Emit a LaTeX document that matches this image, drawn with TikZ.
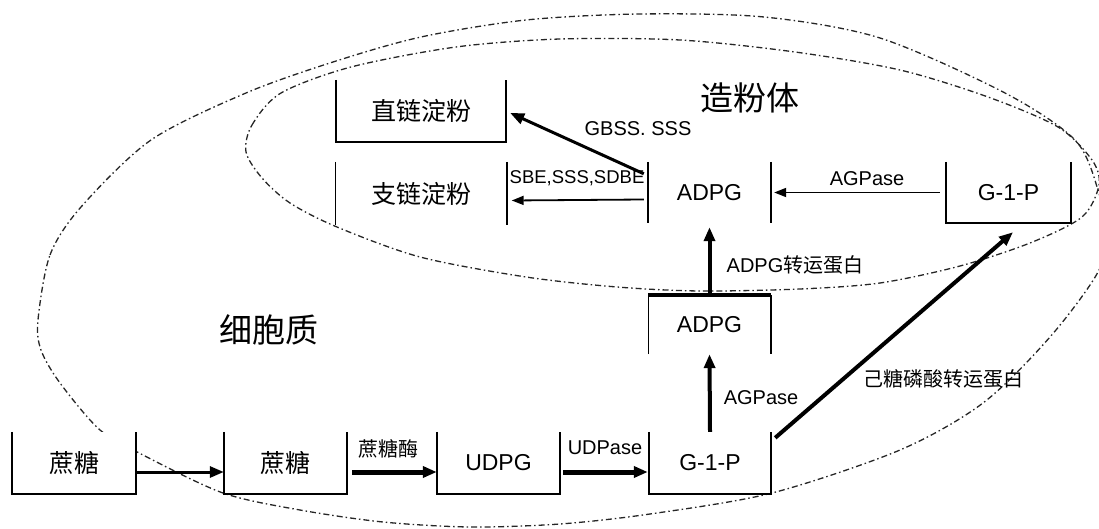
\documentclass[tikz,border=0pt]{standalone}
\usepackage{fontspec}
\setmainfont{Liberation Sans}
\newfontfamily\cjk{Noto Sans CJK SC}
\usetikzlibrary{arrows.meta,calc}
\begin{document}
\begin{tikzpicture}[x=1pt,y=-1pt,
  every node/.style={inner sep=0pt},
  ell/.style={line width=1.3pt, black!85, dash pattern=on 6pt off 3pt on 1.5pt off 3pt},
  box/.style={fill=white, minimum height=62pt, font=\fontsize{23}{26}\selectfont},
  cbox/.style={box, font=\cjk\fontsize{25}{28}\selectfont},
  side/.style={line width=1.6pt},
  lab/.style={font=\fontsize{20}{24}\selectfont},
  clab/.style={font=\cjk\fontsize{20}{24}\selectfont},
  big/.style={font=\cjk\fontsize{33}{38}\selectfont},
  arr/.style={line width=#1, -{Triangle[length=14pt,width=11pt]}},
  tarr/.style={line width=1.8pt, -{Triangle[length=12pt,width=9pt]}}
]
\useasboundingbox (0,0) rectangle (1099,529);
\clip (0,0) rectangle (1099,529);

% cytoplasm (outer) and amyloplast (inner) outlines
\draw[ell] plot[smooth cycle] coordinates {(38,320) (50,255) (81,207) (151,140) (246,93) (333,62) (421,37) (526,20) (640,14) (764,17) (880,38) (1005,93) (1075,140) (1098,190) (1105,232) (1098,272) (1050,337) (983,403) (900,450) (772,493) (650,514) (560,524) (470,527) (383,522) (300,510) (223,493) (143,455) (100,430) (60,383) (41,350)};
\draw[ell] plot[smooth cycle] coordinates {(246,152) (252,125) (281,93) (351,67) (456,47) (560,39) (680,40) (795,52) (900,70) (988,97) (1058,127) (1092,160) (1099,185) (1082,217) (1030,243) (960,266) (880,283) (800,289) (700,291) (617,287) (526,277) (420,257) (337,227) (290,203) (262,178)};

% boxes
\node[cbox, minimum width=124pt] (s1) at (74,463) {蔗糖};
\node[cbox, minimum width=123pt] (s2) at (285.5,463) {蔗糖};
\node[box, minimum width=123pt] (udpg) at (498.5,463) {UDPG};
\node[box, minimum width=122pt] (g1) at (710,463) {G-1-P};
\node[box, minimum width=122pt, minimum height=59pt] (am) at (709.5,324.5) {ADPG};
\node[box, minimum width=123pt, minimum height=61pt] (au) at (709.5,192.5) {ADPG};
\node[box, minimum width=125pt, minimum height=61pt] (g2) at (1008.5,192.5) {G-1-P};
\node[cbox, minimum width=170pt] (zl) at (421,111) {直链淀粉};
\node[cbox, minimum width=171pt, minimum height=63pt] (zh) at (421,193.5) {支链淀粉};

\foreach \n in {s1,s2,udpg,g1,g2,zl}
  \draw[side] (\n.north west) |- (\n.south east) -- (\n.north east);
\foreach \n in {au,zh}
  \draw[side] (\n.north west) -- (\n.south west) (\n.north east) -- (\n.south east);
\draw[side] (am.south west) -- (am.north west) (am.north east) -- (am.south east);
\draw[line width=3.5pt] (am.north west) -- (am.north east);

% arrows
\draw[arr=3pt] ($(s1.east)+(0,9)$) -- ($(s2.west)+(0,9)$);
\draw[arr=5pt] ($(s2.east)+(5,9)$) -- ($(udpg.west)+(0,9)$);
\draw[arr=5pt] ($(udpg.east)+(3,9)$) -- ($(g1.west)+(-1,9)$);
\draw[arr=4pt] (g1.north) -- (am.south);
\draw[arr=4pt] (am.north) -- ($(au.south)+(0,4)$);
\draw[arr=4pt] ($(g1.north east)+(4,6)$) -- ($(g2.south)+(4.5,9)$);
\draw[tarr] ($(g2.west)+(-6,0)$) -- ($(au.east)+(3,0)$);
\draw[tarr] ($(au.west)+(-4,7)$) -- ($(zh.east)+(5,7)$);
\draw[arr=3pt] ($(au.north west)+(-4,12)$) -- ($(zl.east)+(4,2)$);

% labels
\node[big] (lzfb) at (750,98) {造粉体};
\node[big] (lxbz) at (269,330) {细胞质};
\node[lab] (lgbss) at (638,129) {GBSS. SSS};
\node[lab, font=\fontsize{18.5}{22}\selectfont] (lsbe) at (577,178) {SBE,SSS,SDBE};
\node[lab] (lag1) at (867,179) {AGPase};
\node[lab] (ladpgt) at (795,265) {ADPG{\cjk 转运蛋白}};
\node[lab] (lag2) at (761,398) {AGPase};
\node[clab] (lhex) at (943,379) {己糖磷酸转运蛋白};
\node[clab] (lzt) at (388,449) {蔗糖酶};
\node[lab] (lud) at (605,448) {UDPase};
\end{tikzpicture}
\end{document}
